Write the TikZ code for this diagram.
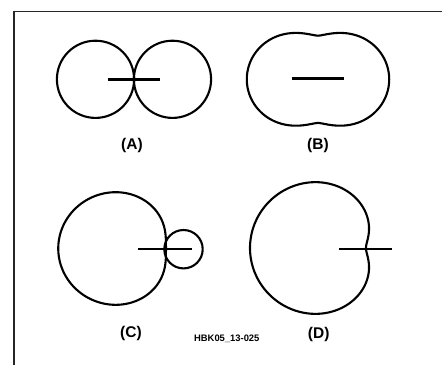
\documentclass[tikz,border=0pt]{standalone}
\usepackage{fontspec}
\setmainfont{Liberation Sans}
\begin{document}
\begin{tikzpicture}[x=1pt,y=-1pt,
  pattern/.style={line width=2.1pt, black, line join=round},
  axis/.style={line width=2.9pt, black},
  frame/.style={color=black!85},
  lab/.style={font=\fontsize{15.5}{18}\selectfont\bfseries, inner sep=0pt},
  code/.style={font=\fontsize{9.4}{11}\selectfont\bfseries, inner sep=0pt}]
\useasboundingbox (0,0) rectangle (442,365);
% frame
\draw[frame, line width=1.5pt] (13,11.6) -- (442,11.6);
\draw[frame, line width=2.3pt] (14.2,10.9) -- (14.2,365);
% (A) figure eight
\draw[pattern] (95.5,79.3) circle[radius=38.6];
\draw[pattern] (172.5,79.3) circle[radius=38.6];
\coordinate (a1) at (107.7,79.3);
\coordinate (a2) at (160,79.3);
\draw[axis] (a1) -- (a2);
\node[lab] (la) at (132,145.5) {(A)};
% (B) peanut
\draw[pattern] plot[domain=0:360, samples=241, smooth cycle, variable=\t]
  ({318+(43.6+27.6*abs(cos(\t))*sqrt(abs(cos(\t))))*cos(\t)},
   {79.3-(43.6+27.6*abs(cos(\t))*sqrt(abs(cos(\t))))*sin(\t)});
\coordinate (b1) at (291.7,78.8);
\coordinate (b2) at (344,78.8);
\draw[axis] (b1) -- (b2);
\node[lab] (lb) at (318,145.5) {(B)};
% (C) supercardioid: main lobe and small rear lobe
\draw[pattern] plot[domain=0:360, samples=241, smooth cycle, variable=\t]
  ({139+(53.85-26.9*cos(\t))*cos(\t)},
   {248.5-0.95*(53.85-26.9*cos(\t))*sin(\t)});
\draw[pattern] (183.5,249.2) circle[radius=19.2];
\coordinate (c1) at (138.3,249);
\coordinate (c2) at (191.7,249);
\draw[axis] (c1) -- (c2);
\node[lab] (lc) at (131,333.5) {(C)};
% (D) cardioid
\draw[pattern] plot[domain=0:360, samples=241, smooth cycle, variable=\t]
  ({348+(58-40*cos(\t))*cos(\t)},
   {248-0.97*(58-40*cos(\t))*sin(\t)});
\coordinate (d1) at (339,249);
\coordinate (d2) at (391.7,249);
\draw[axis] (d1) -- (d2);
\node[lab] (ld) at (318.7,334) {(D)};
% code
\node[code] (code) at (226.8,338.7) {HBK05\_13-025};
\end{tikzpicture}
\end{document}
